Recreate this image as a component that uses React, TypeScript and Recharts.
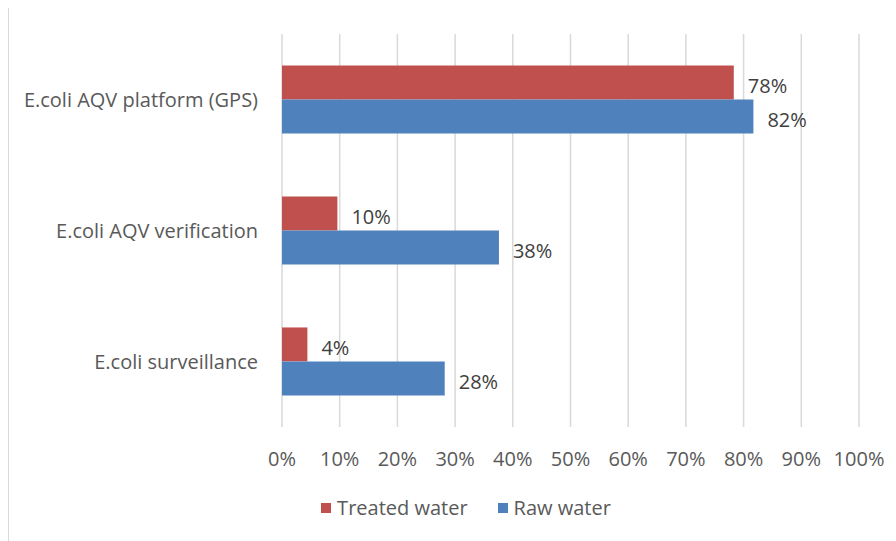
import React from 'react';
import {
  BarChart,
  Bar,
  XAxis,
  YAxis,
  CartesianGrid,
  Legend,
  LabelList,
} from 'recharts';

const categories = [
  'E.coli AQV platform (GPS)',
  'E.coli AQV verification',
  'E.coli surveillance',
];
const treatedWater = [78.3, 9.6, 4.4];
const rawWater = [81.7, 37.6, 28.2];
const xTicks = [0, 10, 20, 30, 40, 50, 60, 70, 80, 90, 100];

const seriesNames = ['Treated water', 'Raw water'];
const seriesColors = ['#c0504d', '#4f81bd'];

const data = categories.map((name, i) => ({
  name,
  treated: treatedWater[i],
  raw: rawWater[i],
}));

const FONT = '"Open Sans", sans-serif';
const pct = (v: any) => `${Math.round(Number(v))}%`;

const renderLegend = () => (
  <div style={{ display: 'flex', justifyContent: 'center', gap: 30, fontFamily: FONT }}>
    {seriesNames.map((n, i) => (
      <div key={n} style={{ display: 'flex', alignItems: 'center', gap: 6 }}>
        <span style={{ width: 10, height: 10, background: seriesColors[i], display: 'inline-block' }} />
        <span style={{ color: '#595959', fontSize: 20 }}>{n}</span>
      </div>
    ))}
  </div>
);

const App = () => {
  return (
    <div
      style={{
        marginTop: -3,
        width: 888,
        height: 536,
        borderTop: '1px solid #d9d9d9',
        borderLeft: '1px solid #d9d9d9',
        boxSizing: 'border-box',
        background: '#fff',
        fontFamily: FONT,
      }}
    >
      <BarChart
        width={887}
        height={535}
        data={data}
        layout="vertical"
        barCategoryGap="24%"
        barGap={0}
        margin={{ top: 28, right: 37, bottom: 20, left: 0 }}
      >
        <CartesianGrid horizontal={false} stroke="#d9d9d9" strokeWidth={1.5} />
        <XAxis
          type="number"
          domain={[0, 100]}
          ticks={xTicks}
          tickFormatter={pct}
          axisLine={false}
          tickLine={false}
          tickSize={0}
          tickMargin={25}
          height={67}
          interval={0}
          tick={{ fill: '#595959', fontSize: 20, fontFamily: FONT }}
        />
        <YAxis
          type="category"
          dataKey="name"
          width={273}
          axisLine={false}
          tickLine={false}
          tickSize={0}
          tickMargin={24}
          tick={{ fill: '#595959', fontSize: 20, fontFamily: FONT }}
        />
        <Legend verticalAlign="bottom" content={renderLegend} wrapperStyle={{ left: 32 }} />
        <Bar dataKey="treated" name={seriesNames[0]} fill={seriesColors[0]} isAnimationActive={false}>
          <LabelList
            dataKey="treated"
            position="right"
            offset={14}
            dy={3}
            formatter={pct}
            style={{ fill: '#404040', fontSize: 20, fontFamily: FONT }}
          />
        </Bar>
        <Bar dataKey="raw" name={seriesNames[1]} fill={seriesColors[1]} isAnimationActive={false}>
          <LabelList
            dataKey="raw"
            position="right"
            offset={14}
            dy={3}
            formatter={pct}
            style={{ fill: '#404040', fontSize: 20, fontFamily: FONT }}
          />
        </Bar>
      </BarChart>
    </div>
  );
};

export default App;
